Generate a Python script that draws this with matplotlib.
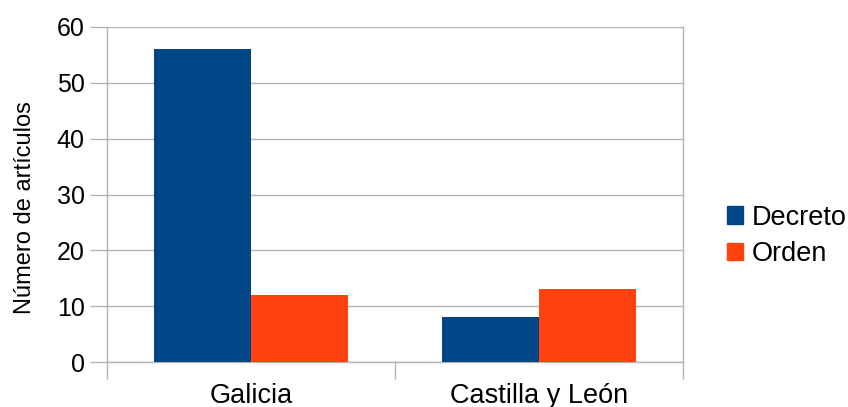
import matplotlib.pyplot as plt
import numpy as np
from matplotlib.patches import Patch

plt.rcParams['font.family'] = ['Liberation Sans', 'DejaVu Sans']

regions = ['Galicia', 'Castilla y León']
decreto = [56, 8]
orden = [12, 13]
series_names = ['Decreto', 'Orden']
colors = ['#004586', '#ff420e']

fig = plt.figure(figsize=(8.48, 4.07), dpi=100)
ax = fig.add_axes([107/848, 1-362/407, 576/848, 335/407])

x = np.arange(len(regions))
w = 0.337
ax.bar(x - w/2, decreto, w, color=colors[0], zorder=3)
ax.bar(x + w/2, orden, w, color=colors[1], zorder=3)

ax.set_xlim(-0.5, 1.5)
ax.set_ylim(0, 60)
ax.set_yticks(range(0, 61, 10))
ax.yaxis.grid(True, color='#b3b3b3', linewidth=1, zorder=0)

# category boundary ticks, labels centred under groups
ax.set_xticks([-0.5, 0.5, 1.5])
ax.set_xticklabels([])
ax.set_xticks(x, minor=True)
ax.set_xticklabels(regions, minor=True, fontsize=19.5)
ax.tick_params(axis='x', which='major', length=12, color='#b3b3b3', width=1)
ax.tick_params(axis='x', which='minor', length=0, pad=15)
ax.tick_params(axis='y', length=12, color='#b3b3b3', width=1, labelsize=18, pad=4)

for s in ['left', 'right', 'bottom']:
    ax.spines[s].set_color('#b3b3b3')
    ax.spines[s].set_linewidth(1)
ax.spines['top'].set_visible(False)

ax.set_ylabel('Número de artículos', fontsize=17)
ax.yaxis.set_label_coords(-0.123, 0.46)

handles = [Patch(color=c, label=n) for c, n in zip(colors, series_names)]
fig.legend(handles=handles, loc='center left', bbox_to_anchor=(727/848, 1-236/407),
           frameon=False, fontsize=19.5, handlelength=0.6, handleheight=0.6,
           handletextpad=0.3, labelspacing=0.4, borderpad=0, borderaxespad=0)

fig.savefig('out.png', dpi=100)
